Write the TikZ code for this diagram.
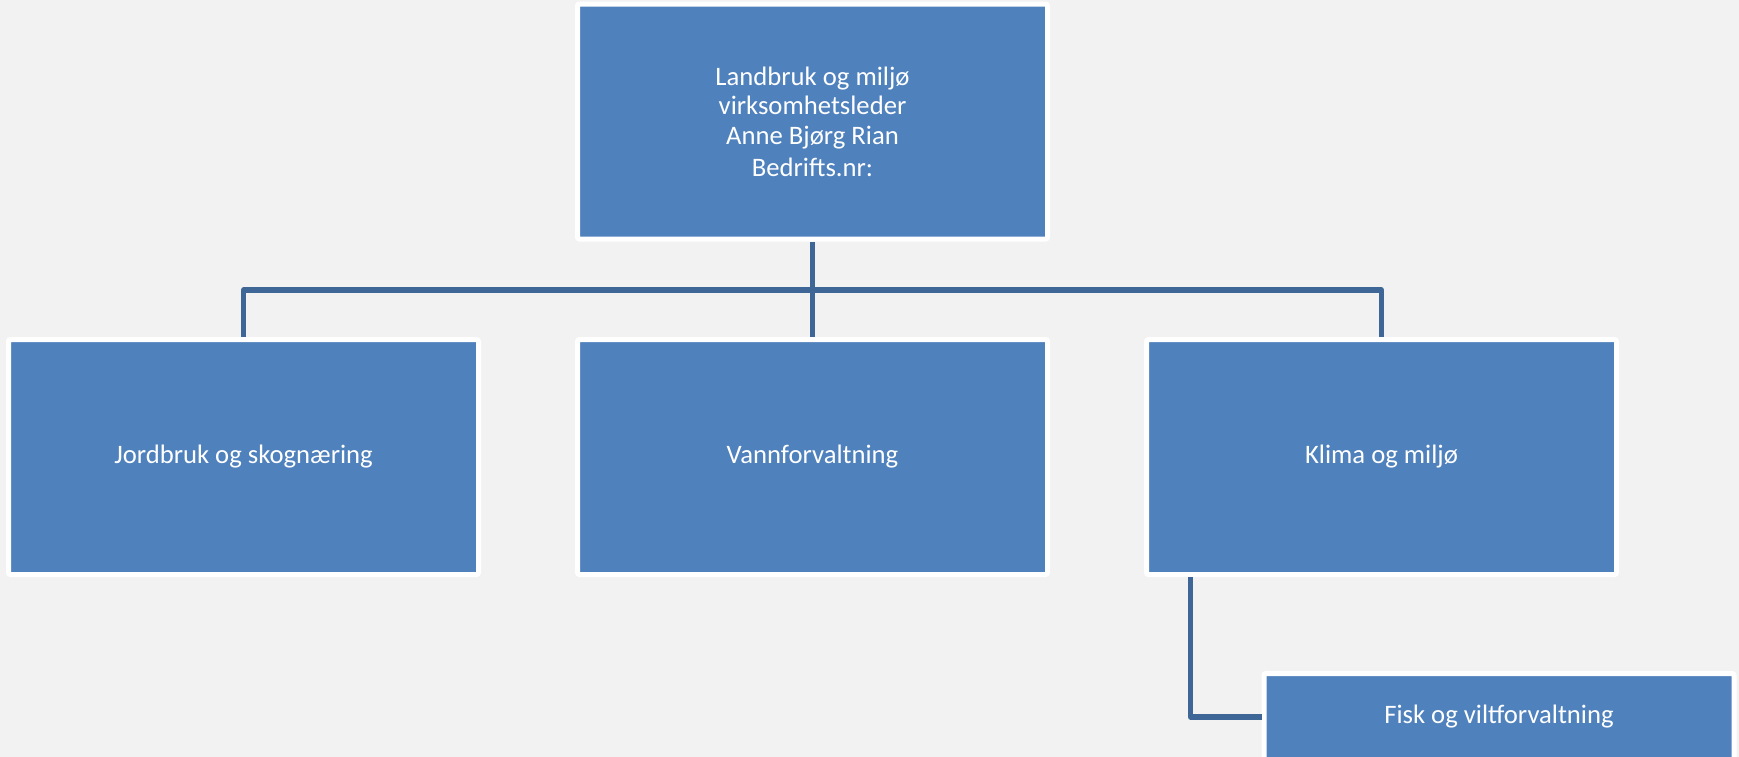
\documentclass[tikz,border=0pt]{standalone}
\usepackage{fontspec}
\setmainfont{Carlito}
\definecolor{boxblue}{HTML}{4F81BD}
\definecolor{linkblue}{HTML}{3E6797}
\definecolor{bggray}{HTML}{F2F2F2}
\begin{document}
\begin{tikzpicture}[x=0.75pt,y=-0.75pt,
  unit/.style={rectangle, fill=boxblue, draw=white, line width=3.75pt,
    minimum width=352.5pt, minimum height=176.25pt, inner sep=0pt,
    rounded corners=1.5pt, text=white, align=center,
    font=\fontsize{20}{22.2}\selectfont},
  boxtext/.style={text=white, font=\fontsize{20}{22.2}\selectfont, inner sep=0pt},
  link/.style={draw=linkblue, line width=3.9pt, line join=round}]
\fill[bggray] (0,0) rectangle (1739,757);
\useasboundingbox (0,0) rectangle (1739,757);
\node[unit] (top) at (812.5,121.5) {Landbruk og miljø\\virksomhetsleder\\Anne Bjørg Rian\\[1.5pt]Bedrifts.nr:};
\node[unit] (left) at (243.5,457) {Jordbruk og skognæring};
\node[unit] (mid) at (812.5,457) {Vannforvaltning};
\node[unit] (right) at (1381.5,457) {Klima og miljø};
\node[unit] (fisk) at (1499,791) {};
\node[boxtext] (fisktxt) at (1499,717) {Fisk og viltforvaltning};
\coordinate (bus) at (812.5,290);
\draw[link] (top.south) -- (mid.north);
\draw[link] (left.north) |- (bus) -| (right.north);
\draw[link] ([xshift=34.9pt]right.south west) |- (fisk.west |- fisktxt.center);
\end{tikzpicture}
\end{document}
